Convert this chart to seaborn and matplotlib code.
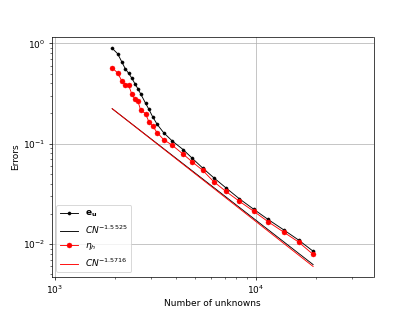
import numpy as np
import matplotlib
matplotlib.use("Agg")
import matplotlib.pyplot as plt
import seaborn as sns

# Número de incógnitas
n_unknowns = [1928, 2052, 2154, 2238, 2328, 2416, 2501, 2588, 2669, 2826,
              2937, 3063, 3228, 3474, 3834, 4348, 4806, 5431, 6163, 7068,
              8261, 9745, 11516, 13740, 16305, 19275]

# Error e_u
err_u = [0.892, 0.788, 0.652, 0.559, 0.503, 0.449, 0.396, 0.353, 0.315, 0.253,
         0.220, 0.186, 0.156, 0.129, 0.1066, 0.0874, 0.0722, 0.0574, 0.0460,
         0.0366, 0.0284, 0.0223, 0.0176, 0.0139, 0.0110, 0.0085]

# Estimador eta_h
eta_h = [0.572, 0.506, 0.422, 0.387, 0.382, 0.311, 0.277, 0.267, 0.217, 0.1994,
         0.165, 0.150, 0.129, 0.110, 0.0966, 0.0787, 0.0664, 0.0545, 0.0420,
         0.0337, 0.0268, 0.0213, 0.0167, 0.0132, 0.0105, 0.0079]

# Ajustes C N^p
fit_u = (2.81e4, -1.5525)
fit_eta = (3.25e4, -1.5716)

N = np.array(n_unknowns, dtype=float)

fig, ax = plt.subplots(figsize=(415 / 65, 311 / 65), dpi=65)

sns.lineplot(x=N, y=err_u, color="k", marker=".", markersize=7,
             markeredgecolor="k", markeredgewidth=0.5, linewidth=1,
             label=r"$\mathbf{e}_\mathbf{u}$", ax=ax)
sns.lineplot(x=N, y=fit_u[0] * N ** fit_u[1], color="k", linewidth=1,
             label=r"$CN^{%.4f}$" % fit_u[1], ax=ax)
sns.lineplot(x=N, y=eta_h, color="red", marker="o", markersize=5.5,
             markeredgecolor="red", markeredgewidth=0.5, linewidth=1,
             label=r"$\eta_h$", ax=ax)
sns.lineplot(x=N, y=fit_eta[0] * N ** fit_eta[1], color="red", linewidth=1,
             label=r"$CN^{%.4f}$" % fit_eta[1], ax=ax)

ax.set_xscale("log")
ax.set_yscale("log")
ax.set_xlim(966, 38500)
ax.set_ylim(0.00473, 1.147)
ax.grid(True, which="major")
ax.set_xlabel("Number of unknowns")
ax.set_ylabel("Errors")
ax.legend(loc="lower left")

plt.savefig("out.png", dpi=65)
